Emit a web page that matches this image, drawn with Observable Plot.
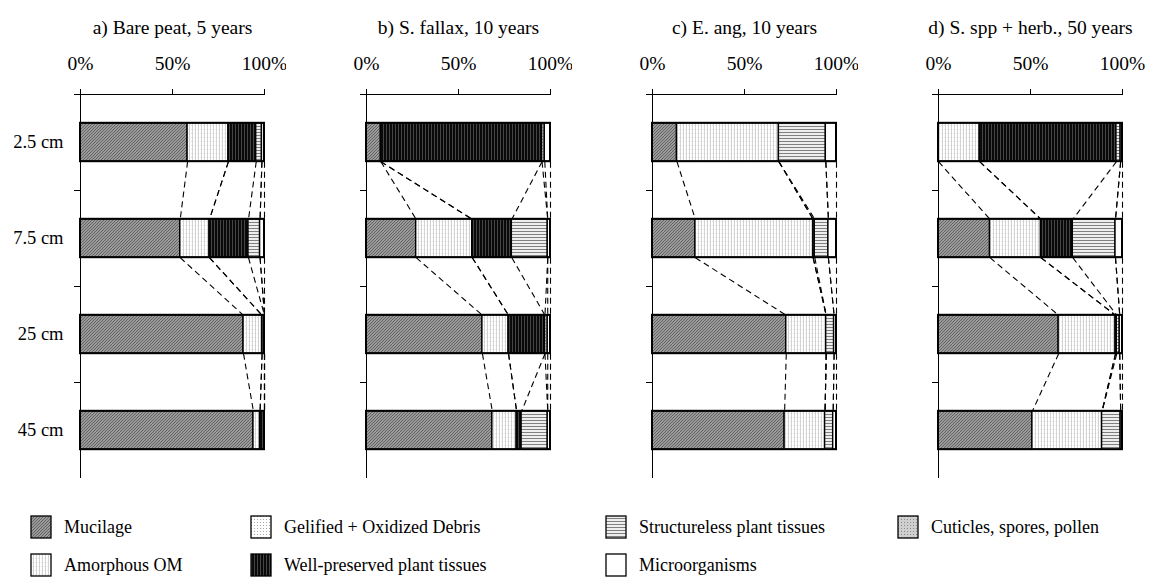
<!DOCTYPE html>
<html><head><meta charset="utf-8">
<script src="https://cdn.jsdelivr.net/npm/d3@7"></script>
<script src="https://cdn.jsdelivr.net/npm/@observablehq/plot@0.6"></script>
<style>
body{margin:0;background:#fff;font-family:'Liberation Serif','Times New Roman',serif;}
#wrap{position:relative;width:1163px;height:581px;overflow:hidden;background:#fff}
#charts{display:flex;position:absolute;left:0;top:0}
.leg{position:absolute;display:flex;align-items:center;font-size:18px;color:#000;white-space:nowrap;font-family:'Liberation Serif',serif}
.leg svg{margin-right:12px}
</style></head><body>
<div id="wrap">
<svg width="0" height="0" style="position:absolute">
<defs>
<pattern id="p-muc" patternUnits="userSpaceOnUse" width="3" height="3">
<rect width="3" height="3" fill="#9a9a9a"/>
<path d="M-1,1 L1,-1 M0,3 L3,0 M2,4 L4,2" stroke="#5e5e5e" stroke-width="0.9"/>
</pattern>
<pattern id="p-amo" patternUnits="userSpaceOnUse" width="3" height="4">
<rect width="3" height="4" fill="#ffffff"/>
<rect x="0" y="0" width="1" height="4" fill="#d2d2d2"/>
<rect x="2" y="1" width="1" height="1" fill="#e6e6e6"/>
</pattern>
<pattern id="p-gel" patternUnits="userSpaceOnUse" width="3" height="3">
<rect width="3" height="3" fill="#ffffff"/>
<rect x="1" y="1" width="1" height="1" fill="#a8a8a8"/>
</pattern>
<pattern id="p-wel" patternUnits="userSpaceOnUse" width="3" height="3">
<rect width="3" height="3" fill="#0a0a0a"/>
<rect x="1" y="0" width="1" height="3" fill="#454545"/>
</pattern>
<pattern id="p-str" patternUnits="userSpaceOnUse" width="3" height="3">
<rect width="3" height="3" fill="#eeeeee"/>
<rect x="0" y="0" width="3" height="1" fill="#808080"/>
</pattern>
<pattern id="p-cut" patternUnits="userSpaceOnUse" width="3" height="3">
<rect width="3" height="3" fill="#cfcfcf"/>
<rect x="1" y="1" width="1" height="1" fill="#8a8a8a"/>
</pattern>
<pattern id="p-mic" patternUnits="userSpaceOnUse" width="3" height="3">
<rect width="3" height="3" fill="#ffffff"/>
</pattern>
</defs>
</svg>
<div id="charts"></div>
<div id="legend"></div>
</div>
<script>
// ---------- data ----------
const panelTitles = ["a) Bare peat, 5 years", "b) S. fallax, 10 years", "c) E. ang, 10 years", "d) S. spp + herb., 50 years"];
const depths = ["2.5 cm", "7.5 cm", "25 cm", "45 cm"];
const categories = ["Mucilage", "Amorphous OM", "Gelified + Oxidized Debris", "Well-preserved plant tissues", "Structureless plant tissues", "Cuticles, spores, pollen", "Microorganisms"];
const patternIds = ["p-muc", "p-amo", "p-gel", "p-wel", "p-str", "p-cut", "p-mic"];
const xTicks = [0, 50, 100];
// rows = depths, columns = categories (percent)
const barePeat = [
  [58.2, 22.2, 0, 15.1, 3.1, 0, 1.4],
  [54.2, 15.9, 0, 21.2, 6.3, 0, 2.4],
  [88.6, 10.1, 0, 1.3, 0, 0, 0],
  [94.0, 3.6, 0, 2.4, 0, 0, 0]
];
const sFallax = [
  [7.8, 0, 0, 87.6, 0, 1.5, 3.1],
  [27.0, 30.5, 0, 21.5, 19.5, 0, 1.5],
  [63.0, 14.2, 0, 19.8, 0, 1.5, 1.5],
  [68.4, 13.2, 0, 2.7, 14.2, 0, 1.5]
];
const eAng = [
  [13.3, 55.4, 0, 0, 25.5, 0, 5.8],
  [23.3, 64.0, 0, 0.9, 7.4, 0, 4.4],
  [72.7, 21.7, 0, 0, 4.3, 0, 1.3],
  [71.8, 22.0, 0, 0, 4.4, 0, 1.8]
];
const sSppHerb = [
  [0, 22.4, 0, 74.3, 2.3, 0, 1.0],
  [28.0, 27.7, 0, 17.3, 23.2, 0, 3.8],
  [65.3, 30.9, 0, 0.7, 1.6, 0, 1.5],
  [51.0, 37.9, 0, 0, 10.1, 0, 1.0]
];
const panelData = [barePeat, sFallax, eAng, sSppHerb];

// legend layout: [category index, left px, row]
const legendItems = [[0, 30, 0], [1, 30, 1], [2, 250, 0], [3, 250, 1], [4, 605, 0], [6, 605, 1], [5, 897, 0]];

// ---------- build ----------
const half = 0.2;
const font = "'Liberation Serif', 'Times New Roman', serif";
const charts = document.getElementById("charts");
panelData.forEach((rows, p) => {
  const segs = [], bars = [], links = [];
  const ends = rows.map(r => { let c = 0; return r.map(v => (c += v)); });
  rows.forEach((r, i) => {
    let c = 0;
    r.forEach((v, k) => {
      if (v > 0) segs.push({cat: categories[k], x1: c, x2: c + v, y1: i - half, y2: i + half});
      c += v;
    });
    bars.push({x1: 0, x2: c, y1: i - half, y2: i + half});
  });
  for (let i = 0; i < rows.length - 1; i++) {
    categories.forEach((c, k) => {
      links.push({xa: ends[i][k], ya: i + half, xb: ends[i + 1][k], yb: i + 1 - half});
    });
  }
  const marks = [
    Plot.text([panelTitles[p]], {frameAnchor: "top", dy: -74, fontSize: 19.5}),
    Plot.axisX({anchor: "top", ticks: xTicks, tickSize: 6, tickPadding: 19, tickFormat: d => d + "%", fontSize: 19.5}),
    Plot.axisY({ticks: [0.5, 1.5, 2.5], tickSize: 6, tickFormat: () => ""}),
    Plot.ruleY([-0.5], {insetLeft: -6, stroke: "black", strokeWidth: 1}),
    Plot.ruleX([0], {stroke: "black", strokeWidth: 1}),
    Plot.link(links, {x1: "xa", y1: "ya", x2: "xb", y2: "yb", stroke: "black", strokeWidth: 1.1, strokeDasharray: "6,4"}),
    Plot.rect(segs, {x1: "x1", x2: "x2", y1: "y1", y2: "y2", fill: "cat", stroke: "black", strokeWidth: 1.4}),
    Plot.rect(bars, {x1: "x1", x2: "x2", y1: "y1", y2: "y2", fill: "none", stroke: "black", strokeWidth: 2})
  ];
  if (p === 0) marks.push(Plot.axisY({ticks: [0, 1, 2, 3], tickSize: 0, tickPadding: 17, tickFormat: i => depths[i], fontSize: 18.5}));
  const chart = Plot.plot({
    width: 286, height: 490,
    marginLeft: 80, marginRight: 22, marginTop: 94, marginBottom: 12,
    style: {fontFamily: font, color: "black", background: "white", overflow: "visible"},
    x: {domain: [0, 100]},
    y: {domain: [-0.5, 3.5], reverse: true},
    color: {type: "ordinal", domain: categories, range: patternIds.map(id => `url(#${id})`)},
    marks
  });
  charts.appendChild(chart);
});

const legend = document.getElementById("legend");
const rowTop = [515, 553];
legendItems.forEach(([k, left, row]) => {
  const d = document.createElement("div");
  d.className = "leg";
  d.style.left = left + "px";
  d.style.top = rowTop[row] + "px";
  d.innerHTML = `<svg width="22" height="24"><rect x="1" y="1" width="20" height="22" fill="url(#${patternIds[k]})" stroke="black" stroke-width="1.3"/></svg><span>${categories[k]}</span>`;
  legend.appendChild(d);
});
</script>
</body></html>
